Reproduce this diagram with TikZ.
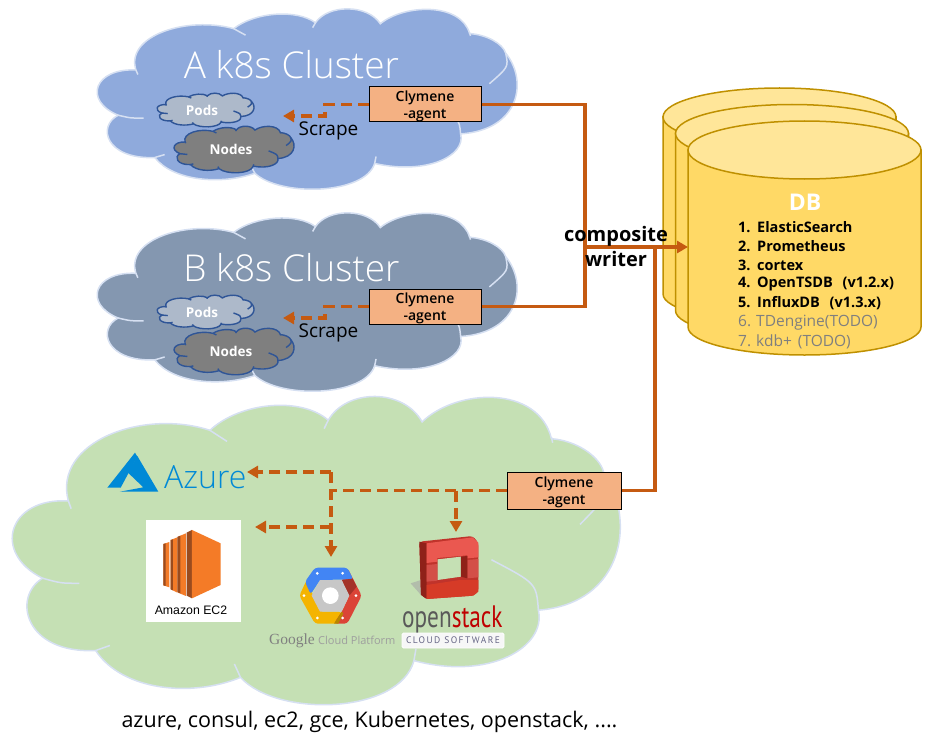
\documentclass[tikz,border=0pt]{standalone}
\usepackage{fontspec}
\usetikzlibrary{arrows.meta,calc}
\setmainfont{Open Sans}
\newfontfamily\lightf{Open Sans}[UprightFont={* Light}]
\newfontfamily\semif{Open Sans}[UprightFont={* Semibold}]
\newfontfamily\ptf{PT Sans}
\newfontfamily\serf{Liberation Serif}
\newfontfamily\arf{Liberation Sans}
\definecolor{arrowc}{HTML}{C55A11}
\definecolor{agentc}{HTML}{F4B183}
\definecolor{cla}{HTML}{8FAADC}
\definecolor{clb}{HTML}{8497B0}
\definecolor{clg}{HTML}{C5E0B4}
\definecolor{edgec}{HTML}{D6E0F2}
\definecolor{podc}{HTML}{ADB9CA}
\definecolor{nodec}{HTML}{7F7F7F}
\definecolor{smalledge}{HTML}{2F5597}
\definecolor{dbbody}{HTML}{FFD966}
\definecolor{dbtop}{HTML}{FFE699}
\definecolor{dbedge}{HTML}{BF9000}
\definecolor{azurec}{HTML}{0089D6}
\definecolor{greyt}{HTML}{7F7F7F}
\definecolor{ecorange}{HTML}{F47B27}
\definecolor{ecdark}{HTML}{9A4B1E}
\tikzset{
  agentbox/.style={draw=black,line width=1pt,fill=agentc,align=center,font=\fontsize{14}{17}\semif,inner sep=0pt},
  solidlink/.style={draw=arrowc,line width=3.6pt},
  dashlink/.style={draw=arrowc,line width=3.6pt,dash pattern=on 11pt off 6pt},
  tip/.style={-{Triangle[length=11pt,width=12pt]}},
  dbitem/.style={anchor=west,inner sep=0pt,font=\fontsize{14.5}{16}\selectfont\bfseries},
  dbgrey/.style={anchor=west,inner sep=0pt,font=\fontsize{15.5}{16}\selectfont,text=greyt},
  clusterlabel/.style={anchor=base,text=white,inner sep=0pt,font=\fontsize{37}{40}\lightf},
  smalllabel/.style={text=white,inner sep=0pt,font=\fontsize{13.5}{16}\selectfont\bfseries},
  scrapelabel/.style={anchor=base,inner sep=0pt,font=\fontsize{19}{20}\selectfont},
  compositelabel/.style={anchor=base,inner sep=0pt,font=\fontsize{20}{22}\selectfont\bfseries},
}
% cloud: x0 y0 x1 y1 fill edge width
\newcommand{\mycloud}[7]{%
  \pgfmathsetmacro\sx{(#3-#1)/1490}%
  \pgfmathsetmacro\sy{(#4-#2)/925}%
  \pgfmathsetmacro\ox{#1-30*\sx}%
  \pgfmathsetmacro\oy{#2-30*\sy}%
  \begin{scope}[shift={(\ox,\oy)},x=\sx pt,y=-\sy pt]
    \path[fill=#5,draw=#6,line width=#7,line join=miter]
      (168,345) .. controls (130,170) and (350,70) .. (515,135)
      .. controls (590,50) and (740,35) .. (805,105)
      .. controls (850,10) and (990,10) .. (1035,110)
      .. controls (1120,10) and (1320,0) .. (1352,160)
      .. controls (1410,165) and (1470,210) .. (1480,260)
      .. controls (1560,400) and (1530,650) .. (1320,670)
      .. controls (1340,780) and (1200,880) .. (1015,820)
      .. controls (980,980) and (680,990) .. (590,870)
      .. controls (470,930) and (300,910) .. (235,790)
      .. controls (60,800) and (30,630) .. (105,575)
      .. controls (-20,500) and (20,335) .. (168,345) -- cycle;
    \draw[#6,line width=#7]
      (168,345) -- (175,368)
      (515,135) -- (557,168)
      (805,105) -- (795,130)
      (1352,155) -- (1355,172)
      (1480,260) .. controls (1490,330) .. (1422,415)
      (1320,670) .. controls (1315,590) .. (1205,520)
      (1015,820) -- (1020,785)
      (590,870) -- (575,830)
      (235,790) -- (270,775)
      (105,575) .. controls (150,590) .. (195,590);
  \end{scope}}
% cylinder: left top
\newcommand{\mycyl}[2]{%
  \begin{scope}[shift={(#1,#2)}]
    \path[fill=dbbody,draw=dbedge,line width=1.5pt] (0,30) -- (0,207) arc[x radius=116.5,y radius=28,start angle=180,end angle=0] -- (233,30) -- cycle;
    \path[fill=dbtop,draw=dbedge,line width=1.5pt] (116.5,30) ellipse[x radius=116.5,y radius=29];
  \end{scope}}
\begin{document}
\begin{tikzpicture}[x=1pt,y=-1pt]
\useasboundingbox (0,0) rectangle (942,749);
% clouds
\mycloud{97}{8}{517}{190}{cla}{edgec}{1.5pt}
\mycloud{97}{212}{517}{392}{clb}{edgec}{1.5pt}
\mycloud{12}{395}{620}{706}{clg}{edgec}{1.5pt}
\mycloud{157}{93}{254}{127}{podc}{smalledge}{1.4pt}
\mycloud{174}{126}{294}{173}{nodec}{smalledge}{1.4pt}
\mycloud{157}{295}{254}{329}{podc}{smalledge}{1.4pt}
\mycloud{174}{328}{294}{375}{nodec}{smalledge}{1.4pt}
% cluster labels
\node[clusterlabel] (clusterA) at (291.5,78.5) {A k8s Cluster};
\node[clusterlabel] (clusterB) at (291.5,281) {B k8s Cluster};
\node[smalllabel] (podsA) at (202,110) {Pods};
\node[smalllabel] (nodesA) at (231,149) {Nodes};
\node[smalllabel] (podsB) at (202,312) {Pods};
\node[smalllabel] (nodesB) at (231,351) {Nodes};
\node[scrapelabel] (scrapeA) at (328.5,135.5) {Scrape};
\node[scrapelabel] (scrapeB) at (328.5,337.5) {Scrape};
% agents
\node[agentbox,minimum width=112pt,minimum height=35pt] (agentA) at (425,104.5) {\rule{0pt}{13.5pt}Clymene\\-agent};
\node[agentbox,minimum width=112pt,minimum height=35pt] (agentB) at (425,306.5) {\rule{0pt}{13.5pt}Clymene\\-agent};
\node[agentbox,minimum width=114pt,minimum height=37pt] (agentC) at (564,490.5) {\rule{0pt}{13.5pt}Clymene\\-agent};
% databases
\mycyl{663}{87}
\mycyl{675.5}{103.5}
\mycyl{688}{120}
\coordinate (dbport) at (688,247);
\coordinate (busA) at (585,104.5);
\coordinate (busB) at (585,306.5);
\coordinate (busM) at (585,247);
\coordinate (busG) at (655,247);
\coordinate (busC) at (655,490.5);
% solid connectors
\draw[solidlink,line join=miter] (agentA.east) -- (busA) -- (busB) -- (agentB.east);
\draw[solidlink,line join=miter] (agentC.east) -- (busC) -- (busG);
\draw[solidlink,tip] (busM) -- (dbport);
% scrape connectors
\coordinate (turnA) at (325,104.5);
\coordinate (kneeA) at (325,116);
\coordinate (tipA) at (283,116);
\coordinate (turnB) at (325,306.5);
\coordinate (kneeB) at (325,318);
\coordinate (tipB) at (283,318);
\draw[dashlink,tip] (agentA.west) -- (turnA) -- (kneeA) -- (tipA);
\draw[dashlink,tip] (agentB.west) -- (turnB) -- (kneeB) -- (tipB);
% cloud discovery connectors
\coordinate (junc) at (331,490.5);
\coordinate (juncT) at (331,472);
\coordinate (juncE) at (331,527);
\coordinate (tipAz) at (247,472);
\coordinate (tipEc) at (255,527);
\coordinate (tipGc) at (331,557);
\coordinate (juncO) at (456,490.5);
\coordinate (tipOs) at (456,532);
\draw[dashlink] (agentC.west) -- (junc);
\draw[dashlink,tip] (juncT) -- (tipAz);
\draw[dashlink,tip] (juncE) -- (tipEc);
\draw[dashlink,tip] (juncT) -- (tipGc);
\draw[dashlink,tip] (juncO) -- (tipOs);
% composite label
\node[compositelabel] (compA) at (616,241) {composite};
\node[compositelabel] (compB) at (616,266) {writer};
% DB text
\node[text=white,inner sep=0pt,font=\fontsize{23}{25}\selectfont\bfseries] (dbtitle) at (805,202) {DB};
\node[dbitem] (i1) at (738,227) {\makebox[19pt][l]{1.}ElasticSearch};
\node[dbitem] (i2) at (738,246) {\makebox[19pt][l]{2.}Prometheus};
\node[dbitem] (i3) at (738,265) {\makebox[19pt][l]{3.}cortex};
\node[dbitem] (i4) at (738,284) {\makebox[19pt][l]{4.}OpenTSDB\hspace{6pt} (v1.2.x)};
\node[dbitem] (i5) at (738,303) {\makebox[19pt][l]{5.}InfluxDB\hspace{6pt} (v1.3.x)};
\node[dbgrey] (i6) at (738,323) {\makebox[18pt][l]{6.}TDengine(TODO)};
\node[dbgrey] (i7) at (738,342) {\makebox[18pt][l]{7.}kdb+\hspace{2pt} (TODO)};
% Azure logo
\begin{scope}[shift={(100,440)},x=0.3333pt,y=-0.3333pt]
  \fill[azurec] (105,38) -- (22,143) -- (62,143) -- (112,50) -- cycle;
  \fill[azurec] (112,48) -- (84,98) -- (130,142) -- (60,155) -- (175,155) -- cycle;
\end{scope}
\node[anchor=base west,inner sep=0pt,text=azurec,font=\fontsize{32}{34}\lightf] (azure) at (164,488) {Azure};
% EC2
\fill[white] (146,520) rectangle (241,622);
\begin{scope}[shift={(100,440)},x=0.3333pt,y=-0.3333pt]
  \fill[ecorange] (190,312) -- (208,306) -- (208,442) -- (190,436) -- cycle;
  \fill[ecorange] (212,300) -- (232,292) -- (232,458) -- (212,448) -- cycle;
  \fill[ecorange] (234,290) -- (258,280) -- (258,468) -- (234,458) -- cycle;
  \fill[ecdark] (190,312) -- (197,310) -- (197,438) -- (190,436) -- cycle;
  \fill[ecdark] (212,300) -- (219,298) -- (219,451) -- (212,448) -- cycle;
  \fill[ecdark] (232,291) -- (241,287) -- (241,460) -- (232,456) -- cycle;
  \fill[ecdark] (260,278) -- (276,270) -- (276,475) -- (260,467) -- cycle;
  \fill[ecorange] (276,270) -- (362,310) -- (362,435) -- (276,475) -- cycle;
\end{scope}
\node[inner sep=0pt,font=\fontsize{12.3}{14}\arf] (ec2) at (191,610) {Amazon EC2};
% GCP hexagon
\begin{scope}[shift={(260,530)},x=0.3333pt,y=-0.3333pt]
  \definecolor{gblue}{HTML}{4285F4}
  \definecolor{gred}{HTML}{DB4437}
  \definecolor{gyel}{HTML}{F4B400}
  \fill[gyel,rounded corners=3pt] (118,197) -- (140,150) -- (180,245) -- (245,245) -- (235,281) -- (165,281) -- cycle;
  \fill[gred,rounded corners=3pt] (262,113) -- (305,197) -- (262,281) -- (222,281) -- (245,245) -- (268,197) -- (245,150) -- cycle;
  \fill[gblue,rounded corners=3pt] (165,113) -- (262,113) -- (280,148) -- (180,150) -- (152,193) -- (135,155) -- cycle;
  \fill[gred!75!black] (245,150) -- (278,146) -- (290,170) -- (268,197) -- cycle;
  \fill[gyel!75!black] (245,245) -- (222,281) -- (235,281) -- (250,250) -- cycle;
  \fill[black!22] (180,150) -- (245,150) -- (268,197) -- (245,245) -- (180,245) -- (155,197) -- cycle;
  \fill[white] (211,197) circle[radius=25];
  \foreach \p in {(172,130),(248,130),(288,197),(248,264),(172,264),(132,197)} \fill[white] \p circle[radius=4.5];
\end{scope}
\node[anchor=base west,inner sep=0pt,text=black!50,font=\fontsize{15.5}{18}\serf] (gcpa) at (269,644.5) {Google};
\node[anchor=base west,inner sep=0pt,text=black!38,font=\fontsize{11}{14}\selectfont] (gcpb) at (318,644) {Cloud Platform};
% OpenStack
\begin{scope}[shift={(260,530)},x=0.3333pt,y=-0.3333pt]
  \definecolor{osa}{HTML}{C0332B}
  \definecolor{osb}{HTML}{EA5850}
  \definecolor{osc}{HTML}{D63B27}
  \definecolor{osd}{HTML}{8F2119}
  \fill[black!35,opacity=.6] (452,160) -- (483,150) -- (483,195) -- cycle;
  \fill[osa,rounded corners=3pt] (478,35) -- (638,18) -- (655,38) -- (655,185) -- (640,197) -- (500,207) -- (483,195) -- cycle;
  \fill[osd] (478,35) -- (500,40) -- (500,207) -- (483,195) -- cycle;
  \fill[osb] (500,40) -- (638,22) -- (655,38) -- (655,82) -- (622,85) -- (622,76) -- (532,84) -- (532,95) -- (500,99) -- cycle;
  \fill[osb!90!black] (500,105) -- (532,102) -- (532,152) -- (500,155) -- cycle;
  \fill[osb!90!black] (622,90) -- (655,87) -- (655,142) -- (622,145) -- cycle;
  \fill[osc] (500,165) -- (600,150) -- (655,150) -- (655,185) -- (640,197) -- (500,207) -- cycle;
  \fill[clg] (533,88) -- (603,80) -- (603,140) -- (533,150) -- cycle;
  \fill[osd] (603,80) -- (622,78) -- (622,145) -- (603,140) -- cycle;
\end{scope}
\node[anchor=base west,inner sep=0pt,font=\fontsize{31}{32}\ptf] (ostext) at (402,627) {\scalebox{0.75}[1]{\textcolor{black!65}{open}\textcolor{red!75!black}{stack}}};
\node[fill=black!3,draw=white,line width=.8pt,rounded corners=1.5pt,minimum width=102pt,minimum height=15pt,inner sep=0pt,text=blue!20!black!60,font=\fontsize{9.5}{10}\ptf\addfontfeatures{LetterSpace=15}] (osbox) at (453,640.5) {CLOUD SOFTWARE};
% caption
\node[inner sep=0pt,font=\fontsize{21.5}{24}\selectfont] (caption) at (369.5,722) {azure, consul, ec2, gce, Kubernetes, openstack, ....};
\end{tikzpicture}
\end{document}
